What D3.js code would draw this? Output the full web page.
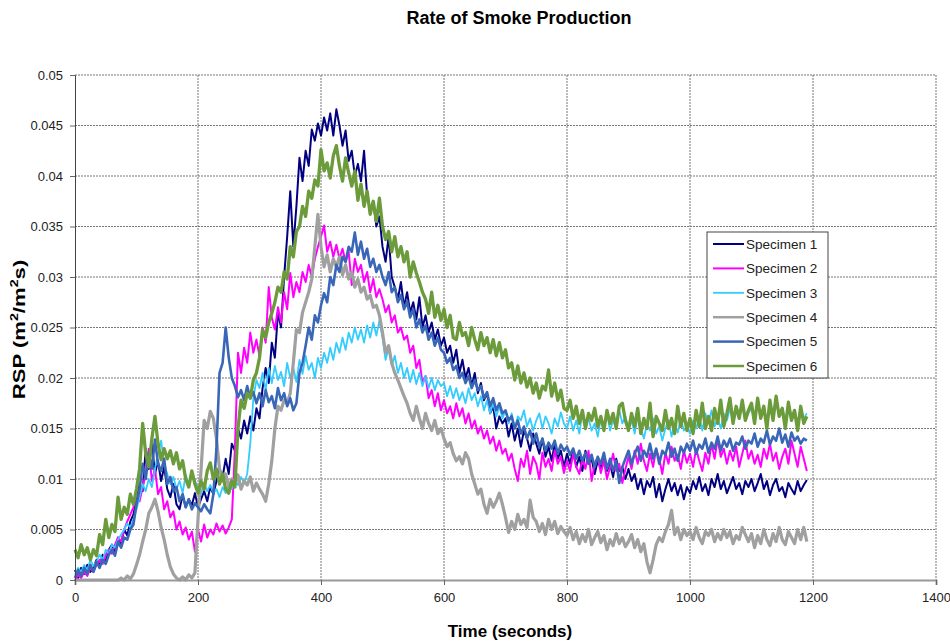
<!DOCTYPE html>
<html>
<head>
<meta charset="utf-8">
<script src="https://cdn.jsdelivr.net/npm/d3@7"></script>
<style>
  body { margin: 0; background: #fff; }
  svg text { font-family: "Liberation Sans", Arial, sans-serif; }
</style>
</head>
<body>
<div id="chart"></div>
<script>
// time in seconds (5 s sampling)
const time = [
  0,5,10,15,20,25,30,35,40,45,50,55,60,65,70,75,80,85,90,95,
  100,105,110,115,120,125,130,135,140,145,150,155,160,165,170,175,180,185,190,195,
  200,205,210,215,220,225,230,235,240,245,250,255,260,265,270,275,280,285,290,295,
  300,305,310,315,320,325,330,335,340,345,350,355,360,365,370,375,380,385,390,395,
  400,405,410,415,420,425,430,435,440,445,450,455,460,465,470,475,480,485,490,495,
  500,505,510,515,520,525,530,535,540,545,550,555,560,565,570,575,580,585,590,595,
  600,605,610,615,620,625,630,635,640,645,650,655,660,665,670,675,680,685,690,695,
  700,705,710,715,720,725,730,735,740,745,750,755,760,765,770,775,780,785,790,795,
  800,805,810,815,820,825,830,835,840,845,850,855,860,865,870,875,880,885,890,895,
  900,905,910,915,920,925,930,935,940,945,950,955,960,965,970,975,980,985,990,995,
  1000,1005,1010,1015,1020,1025,1030,1035,1040,1045,1050,1055,1060,1065,1070,1075,1080,1085,1090,1095,
  1100,1105,1110,1115,1120,1125,1130,1135,1140,1145,1150,1155,1160,1165,1170,1175,1180,1185,1190
];

const specimen1 = [
  0.0010,0.0002,0.0012,0.0006,0.0015,0.0008,0.0012,0.0020,0.0014,0.0025,0.0018,0.0030,0.0035,0.0028,0.0042,0.0036,0.0050,0.0044,0.0058,0.0065,
  0.0080,0.0095,0.0088,0.0130,0.0110,0.0136,0.0105,0.0118,0.0098,0.0112,0.0090,0.0082,0.0095,0.0075,0.0070,0.0084,0.0072,0.0080,0.0074,0.0086,
  0.0072,0.0080,0.0088,0.0078,0.0092,0.0085,0.0098,0.0110,0.0102,0.0120,0.0105,0.0135,0.0128,0.0150,0.0140,0.0158,0.0145,0.0162,0.0148,0.0170,
  0.0160,0.0190,0.0210,0.0195,0.0235,0.0220,0.0265,0.0250,0.0300,0.0340,0.0385,0.0330,0.0370,0.0418,0.0395,0.0425,0.0410,0.0446,0.0435,0.0452,
  0.0440,0.0458,0.0445,0.0462,0.0440,0.0466,0.0450,0.0430,0.0445,0.0415,0.0425,0.0400,0.0412,0.0395,0.0425,0.0380,0.0366,0.0375,0.0350,0.0360,
  0.0330,0.0315,0.0340,0.0300,0.0290,0.0278,0.0295,0.0270,0.0285,0.0265,0.0275,0.0258,0.0280,0.0250,0.0262,0.0245,0.0255,0.0238,0.0248,0.0232,
  0.0240,0.0225,0.0232,0.0215,0.0228,0.0205,0.0218,0.0200,0.0210,0.0192,0.0205,0.0185,0.0195,0.0178,0.0185,0.0165,0.0172,0.0150,0.0162,0.0155,
  0.0160,0.0142,0.0155,0.0138,0.0150,0.0132,0.0148,0.0140,0.0128,0.0145,0.0135,0.0125,0.0140,0.0122,0.0132,0.0118,0.0135,0.0120,0.0128,0.0112,
  0.0125,0.0115,0.0130,0.0112,0.0122,0.0108,0.0128,0.0115,0.0120,0.0105,0.0118,0.0110,0.0125,0.0108,0.0115,0.0102,0.0120,0.0108,0.0112,0.0100,
  0.0110,0.0098,0.0105,0.0090,0.0100,0.0085,0.0098,0.0092,0.0102,0.0082,0.0095,0.0078,0.0090,0.0100,0.0088,0.0096,0.0084,0.0094,0.0080,0.0092,
  0.0086,0.0098,0.0090,0.0102,0.0088,0.0095,0.0084,0.0100,0.0092,0.0105,0.0090,0.0098,0.0086,0.0094,0.0102,0.0090,0.0096,0.0085,0.0098,0.0092,
  0.0100,0.0088,0.0096,0.0105,0.0090,0.0098,0.0084,0.0094,0.0100,0.0088,0.0092,0.0082,0.0096,0.0090,0.0085,0.0098,0.0088,0.0094,0.0099
];

const specimen2 = [
  0.0000,0.0005,0.0002,0.0008,0.0004,0.0012,0.0008,0.0015,0.0020,0.0016,0.0025,0.0030,0.0026,0.0035,0.0042,0.0038,0.0050,0.0058,0.0065,0.0072,
  0.0085,0.0078,0.0092,0.0105,0.0130,0.0098,0.0110,0.0085,0.0092,0.0070,0.0078,0.0062,0.0068,0.0050,0.0058,0.0045,0.0052,0.0040,0.0048,0.0028,
  0.0050,0.0038,0.0055,0.0042,0.0050,0.0045,0.0056,0.0048,0.0054,0.0046,0.0052,0.0060,0.0130,0.0225,0.0205,0.0230,0.0215,0.0245,0.0225,0.0238,
  0.0222,0.0250,0.0235,0.0290,0.0260,0.0248,0.0270,0.0255,0.0285,0.0268,0.0304,0.0280,0.0295,0.0285,0.0305,0.0295,0.0312,0.0300,0.0318,0.0330,
  0.0340,0.0351,0.0325,0.0335,0.0320,0.0332,0.0318,0.0328,0.0315,0.0325,0.0292,0.0318,0.0305,0.0312,0.0295,0.0305,0.0285,0.0298,0.0280,0.0288,
  0.0278,0.0265,0.0272,0.0255,0.0262,0.0245,0.0250,0.0238,0.0242,0.0225,0.0232,0.0210,0.0218,0.0195,0.0202,0.0180,0.0188,0.0172,0.0185,0.0168,
  0.0178,0.0165,0.0172,0.0160,0.0175,0.0162,0.0170,0.0155,0.0165,0.0150,0.0158,0.0145,0.0152,0.0140,0.0148,0.0135,0.0142,0.0128,0.0138,0.0125,
  0.0130,0.0118,0.0125,0.0110,0.0098,0.0120,0.0112,0.0128,0.0105,0.0122,0.0115,0.0100,0.0126,0.0112,0.0120,0.0108,0.0128,0.0115,0.0122,0.0106,
  0.0118,0.0108,0.0125,0.0112,0.0105,0.0120,0.0110,0.0128,0.0098,0.0115,0.0122,0.0106,0.0118,0.0100,0.0112,0.0125,0.0108,0.0115,0.0096,0.0110,
  0.0122,0.0110,0.0128,0.0115,0.0135,0.0118,0.0108,0.0125,0.0112,0.0130,0.0120,0.0105,0.0126,0.0115,0.0132,0.0118,0.0124,0.0110,0.0128,0.0116,
  0.0125,0.0112,0.0130,0.0118,0.0108,0.0126,0.0115,0.0135,0.0120,0.0140,0.0122,0.0130,0.0115,0.0128,0.0118,0.0132,0.0112,0.0125,0.0138,0.0120,
  0.0128,0.0115,0.0124,0.0112,0.0130,0.0120,0.0135,0.0118,0.0126,0.0110,0.0122,0.0130,0.0115,0.0138,0.0125,0.0112,0.0132,0.0120,0.0108
];

const specimen3 = [
  0.0005,0.0012,0.0008,0.0015,0.0010,0.0020,0.0014,0.0018,0.0025,0.0020,0.0030,0.0026,0.0035,0.0032,0.0040,0.0045,0.0050,0.0056,0.0052,0.0060,
  0.0070,0.0082,0.0095,0.0088,0.0100,0.0092,0.0110,0.0125,0.0138,0.0115,0.0105,0.0095,0.0102,0.0090,0.0098,0.0086,0.0104,0.0095,0.0108,0.0098,
  0.0092,0.0085,0.0096,0.0088,0.0094,0.0086,0.0090,0.0082,0.0092,0.0086,0.0095,0.0090,0.0100,0.0094,0.0102,0.0096,0.0105,0.0135,0.0180,0.0198,
  0.0190,0.0205,0.0188,0.0210,0.0195,0.0212,0.0198,0.0206,0.0192,0.0215,0.0200,0.0210,0.0196,0.0218,0.0204,0.0222,0.0208,0.0215,0.0200,0.0220,
  0.0210,0.0225,0.0215,0.0230,0.0218,0.0235,0.0225,0.0240,0.0228,0.0245,0.0235,0.0250,0.0238,0.0248,0.0235,0.0252,0.0240,0.0255,0.0242,0.0257,
  0.0240,0.0218,0.0230,0.0212,0.0222,0.0205,0.0215,0.0200,0.0210,0.0196,0.0208,0.0194,0.0205,0.0192,0.0202,0.0190,0.0200,0.0188,0.0198,0.0192,
  0.0195,0.0182,0.0192,0.0180,0.0190,0.0178,0.0186,0.0175,0.0190,0.0178,0.0185,0.0172,0.0182,0.0168,0.0178,0.0165,0.0175,0.0162,0.0172,0.0160,
  0.0168,0.0155,0.0165,0.0150,0.0162,0.0158,0.0168,0.0152,0.0160,0.0148,0.0158,0.0165,0.0150,0.0162,0.0155,0.0145,0.0160,0.0152,0.0166,0.0155,
  0.0150,0.0162,0.0148,0.0158,0.0145,0.0165,0.0152,0.0160,0.0148,0.0155,0.0142,0.0160,0.0150,0.0165,0.0148,0.0158,0.0152,0.0168,0.0155,0.0162,
  0.0150,0.0158,0.0145,0.0162,0.0150,0.0140,0.0155,0.0148,0.0160,0.0145,0.0152,0.0138,0.0150,0.0158,0.0142,0.0155,0.0146,0.0160,0.0148,0.0152,
  0.0145,0.0158,0.0150,0.0162,0.0148,0.0165,0.0155,0.0168,0.0152,0.0160,0.0150,0.0165,0.0158,0.0170,0.0155,0.0168,0.0160,0.0172,0.0158,0.0165,
  0.0170,0.0158,0.0175,0.0162,0.0168,0.0155,0.0172,0.0160,0.0178,0.0165,0.0170,0.0158,0.0175,0.0162,0.0168,0.0155,0.0170,0.0160,0.0165
];

const specimen4 = [
  0.0000,0.0000,0.0000,0.0000,0.0000,0.0000,0.0000,0.0000,0.0000,0.0000,0.0000,0.0000,0.0000,0.0000,0.0000,0.0002,0.0000,0.0004,0.0001,0.0006,
  0.0015,0.0025,0.0038,0.0050,0.0066,0.0072,0.0080,0.0068,0.0052,0.0040,0.0025,0.0013,0.0006,0.0002,0.0000,0.0003,0.0000,0.0005,0.0002,0.0007,
  0.0060,0.0110,0.0158,0.0150,0.0167,0.0160,0.0140,0.0110,0.0098,0.0105,0.0092,0.0100,0.0095,0.0104,0.0090,0.0098,0.0094,0.0102,0.0088,0.0096,
  0.0090,0.0085,0.0078,0.0095,0.0118,0.0150,0.0172,0.0168,0.0178,0.0175,0.0185,0.0215,0.0248,0.0245,0.0265,0.0275,0.0285,0.0298,0.0330,0.0362,
  0.0330,0.0310,0.0322,0.0305,0.0318,0.0310,0.0320,0.0302,0.0312,0.0298,0.0305,0.0290,0.0298,0.0285,0.0290,0.0278,0.0282,0.0270,0.0272,0.0262,
  0.0245,0.0225,0.0232,0.0215,0.0205,0.0198,0.0190,0.0182,0.0175,0.0165,0.0158,0.0172,0.0160,0.0150,0.0165,0.0155,0.0148,0.0158,0.0145,0.0150,
  0.0140,0.0132,0.0136,0.0125,0.0118,0.0122,0.0115,0.0126,0.0120,0.0105,0.0095,0.0085,0.0090,0.0075,0.0066,0.0080,0.0072,0.0078,0.0086,0.0075,
  0.0062,0.0047,0.0058,0.0050,0.0065,0.0055,0.0060,0.0052,0.0079,0.0062,0.0058,0.0048,0.0056,0.0045,0.0060,0.0050,0.0058,0.0046,0.0053,0.0048,
  0.0044,0.0052,0.0040,0.0048,0.0036,0.0045,0.0038,0.0050,0.0035,0.0042,0.0048,0.0037,0.0044,0.0030,0.0040,0.0034,0.0046,0.0036,0.0042,0.0033,
  0.0038,0.0045,0.0032,0.0040,0.0028,0.0036,0.0018,0.0007,0.0020,0.0035,0.0042,0.0038,0.0048,0.0055,0.0069,0.0045,0.0052,0.0040,0.0050,0.0044,
  0.0048,0.0040,0.0052,0.0042,0.0036,0.0048,0.0044,0.0050,0.0038,0.0046,0.0040,0.0050,0.0042,0.0048,0.0036,0.0044,0.0040,0.0052,0.0045,0.0038,
  0.0046,0.0032,0.0044,0.0036,0.0050,0.0040,0.0034,0.0046,0.0038,0.0052,0.0040,0.0035,0.0048,0.0042,0.0036,0.0050,0.0040,0.0052,0.0038
];

const specimen5 = [
  0.0002,0.0010,0.0004,0.0012,0.0006,0.0015,0.0008,0.0018,0.0012,0.0020,0.0016,0.0025,0.0030,0.0024,0.0038,0.0032,0.0042,0.0040,0.0050,0.0055,
  0.0075,0.0090,0.0115,0.0100,0.0125,0.0110,0.0139,0.0115,0.0108,0.0120,0.0095,0.0102,0.0088,0.0092,0.0078,0.0085,0.0072,0.0080,0.0070,0.0076,
  0.0072,0.0068,0.0075,0.0070,0.0066,0.0085,0.0130,0.0205,0.0215,0.0250,0.0220,0.0200,0.0192,0.0181,0.0188,0.0178,0.0192,0.0180,0.0186,0.0175,
  0.0185,0.0172,0.0188,0.0176,0.0182,0.0170,0.0190,0.0178,0.0185,0.0172,0.0180,0.0168,0.0175,0.0205,0.0215,0.0232,0.0250,0.0238,0.0262,0.0255,
  0.0272,0.0284,0.0275,0.0300,0.0292,0.0312,0.0305,0.0320,0.0315,0.0330,0.0325,0.0344,0.0322,0.0335,0.0318,0.0328,0.0310,0.0318,0.0305,0.0312,
  0.0300,0.0292,0.0305,0.0285,0.0290,0.0275,0.0282,0.0268,0.0276,0.0260,0.0268,0.0250,0.0258,0.0245,0.0252,0.0238,0.0245,0.0232,0.0240,0.0228,
  0.0225,0.0215,0.0220,0.0208,0.0212,0.0200,0.0205,0.0195,0.0202,0.0190,0.0198,0.0188,0.0192,0.0180,0.0186,0.0172,0.0180,0.0168,0.0175,0.0165,
  0.0168,0.0158,0.0162,0.0150,0.0158,0.0145,0.0152,0.0140,0.0148,0.0135,0.0145,0.0132,0.0140,0.0128,0.0136,0.0130,0.0138,0.0125,0.0134,0.0128,
  0.0132,0.0124,0.0130,0.0120,0.0128,0.0118,0.0126,0.0115,0.0124,0.0112,0.0122,0.0115,0.0126,0.0110,0.0120,0.0108,0.0118,0.0096,0.0112,0.0120,
  0.0128,0.0115,0.0125,0.0132,0.0118,0.0128,0.0122,0.0135,0.0120,0.0130,0.0115,0.0128,0.0124,0.0136,0.0122,0.0130,0.0118,0.0132,0.0126,0.0135,
  0.0128,0.0138,0.0125,0.0134,0.0130,0.0140,0.0126,0.0136,0.0130,0.0142,0.0128,0.0138,0.0132,0.0140,0.0128,0.0136,0.0134,0.0142,0.0130,0.0138,
  0.0135,0.0145,0.0132,0.0140,0.0136,0.0148,0.0134,0.0142,0.0138,0.0150,0.0136,0.0144,0.0132,0.0146,0.0138,0.0142,0.0135,0.0140,0.0138
];

const specimen6 = [
  0.0030,0.0022,0.0035,0.0025,0.0032,0.0020,0.0030,0.0024,0.0045,0.0035,0.0060,0.0042,0.0055,0.0048,0.0082,0.0060,0.0072,0.0065,0.0085,0.0075,
  0.0090,0.0110,0.0155,0.0125,0.0112,0.0140,0.0162,0.0135,0.0119,0.0130,0.0120,0.0128,0.0115,0.0126,0.0110,0.0118,0.0100,0.0092,0.0108,0.0095,
  0.0086,0.0098,0.0090,0.0108,0.0116,0.0100,0.0110,0.0095,0.0105,0.0090,0.0086,0.0098,0.0092,0.0150,0.0178,0.0170,0.0185,0.0180,0.0198,0.0205,
  0.0220,0.0248,0.0240,0.0255,0.0264,0.0275,0.0290,0.0285,0.0305,0.0298,0.0330,0.0320,0.0345,0.0350,0.0370,0.0360,0.0385,0.0378,0.0396,0.0390,
  0.0426,0.0405,0.0413,0.0398,0.0420,0.0430,0.0410,0.0395,0.0418,0.0403,0.0390,0.0405,0.0376,0.0392,0.0370,0.0385,0.0362,0.0375,0.0355,0.0378,
  0.0350,0.0337,0.0345,0.0325,0.0340,0.0320,0.0330,0.0315,0.0325,0.0300,0.0315,0.0304,0.0295,0.0285,0.0278,0.0264,0.0285,0.0260,0.0272,0.0257,
  0.0268,0.0250,0.0262,0.0240,0.0238,0.0255,0.0242,0.0245,0.0232,0.0250,0.0238,0.0228,0.0245,0.0232,0.0240,0.0225,0.0238,0.0222,0.0235,0.0220,
  0.0228,0.0210,0.0215,0.0198,0.0212,0.0195,0.0205,0.0191,0.0200,0.0185,0.0195,0.0180,0.0192,0.0188,0.0208,0.0182,0.0195,0.0178,0.0188,0.0170,
  0.0168,0.0178,0.0160,0.0172,0.0155,0.0168,0.0150,0.0165,0.0158,0.0170,0.0152,0.0162,0.0148,0.0168,0.0155,0.0165,0.0150,0.0172,0.0175,0.0158,
  0.0148,0.0165,0.0152,0.0170,0.0145,0.0160,0.0150,0.0175,0.0142,0.0162,0.0155,0.0148,0.0168,0.0150,0.0160,0.0145,0.0172,0.0152,0.0165,0.0148,
  0.0160,0.0145,0.0168,0.0152,0.0175,0.0150,0.0162,0.0148,0.0170,0.0155,0.0178,0.0152,0.0165,0.0180,0.0155,0.0172,0.0160,0.0178,0.0158,0.0168,
  0.0175,0.0155,0.0180,0.0160,0.0172,0.0150,0.0178,0.0158,0.0182,0.0162,0.0170,0.0150,0.0176,0.0158,0.0168,0.0148,0.0172,0.0155,0.0162
];

const seriesNames = ["Specimen 1", "Specimen 2", "Specimen 3", "Specimen 4", "Specimen 5", "Specimen 6"];
const seriesData = [specimen1, specimen2, specimen3, specimen4, specimen5, specimen6];
const seriesColors = ["#000080", "#ff00ff", "#33ccff", "#a0a0a0", "#3a66b8", "#6b9b3a"];
const seriesWidths = [2, 2, 1.8, 3.2, 2.6, 3.3];

const xTicks = [0, 200, 400, 600, 800, 1000, 1200, 1400];
const yTicks = [0, 0.005, 0.01, 0.015, 0.02, 0.025, 0.03, 0.035, 0.04, 0.045, 0.05];

const width = 950, height = 642;
const margin = { top: 75, right: 14, bottom: 62, left: 75 };

const svg = d3.select("#chart").append("svg")
    .attr("width", width)
    .attr("height", height);

const x = d3.scaleLinear().domain([0, 1400]).range([margin.left, width - margin.right]);
const y = d3.scaleLinear().domain([0, 0.05]).range([height - margin.bottom, margin.top]);

// gridlines
svg.append("g")
    .selectAll("line")
    .data(yTicks.slice(1))
    .enter().append("line")
    .attr("x1", x(0)).attr("x2", x(1400))
    .attr("y1", d => y(d)).attr("y2", d => y(d))
    .style("stroke", "#777")
    .style("stroke-width", 1)
    .style("stroke-dasharray", "2,1");

svg.append("g")
    .selectAll("line")
    .data(xTicks.slice(1))
    .enter().append("line")
    .attr("x1", d => x(d)).attr("x2", d => x(d))
    .attr("y1", y(0.05)).attr("y2", y(0))
    .style("stroke", "#777")
    .style("stroke-width", 1)
    .style("stroke-dasharray", "2,1");

// series
const line = d3.line()
    .x((d, i) => x(time[i]))
    .y(d => y(d));

seriesData.forEach((data, k) => {
    svg.append("path")
        .datum(data)
        .attr("fill", "none")
        .attr("stroke", seriesColors[k])
        .attr("stroke-width", seriesWidths[k])
        .attr("stroke-linejoin", "round")
        .attr("d", line);
});

// axes
const xAxis = d3.axisBottom(x).tickValues(xTicks).tickSize(5).tickFormat(d3.format("d"));
const yAxis = d3.axisLeft(y).tickValues(yTicks).tickSize(5).tickFormat(d => d === 0 ? "0" : d3.format("")(+d.toFixed(3)));

const gx = svg.append("g")
    .attr("transform", `translate(0,${y(0)})`)
    .call(xAxis);
gx.select(".domain").attr("stroke", "#999").attr("stroke-width", 2);
gx.selectAll(".tick line").attr("stroke", "#666");
gx.selectAll("text").attr("fill", "#222").style("font-size", "13px").attr("dy", "1.05em");

const gy = svg.append("g")
    .attr("transform", `translate(${x(0)},0)`)
    .call(yAxis);
gy.select(".domain").attr("stroke", "#444").attr("stroke-width", 1);
gy.selectAll(".tick line").attr("stroke", "#666");
gy.selectAll("text").attr("fill", "#222").style("font-size", "13px").attr("x", -12);

// titles
svg.append("text")
    .attr("x", 519).attr("y", 24)
    .attr("text-anchor", "middle")
    .style("font-size", "18px").style("font-weight", "bold")
    .text("Rate of Smoke Production");

svg.append("text")
    .attr("x", 510).attr("y", 637)
    .attr("text-anchor", "middle")
    .style("font-size", "17px").style("font-weight", "bold")
    .text("Time (seconds)");

const yTitle = svg.append("text")
    .attr("transform", `translate(25,${(y(0) + y(0.05)) / 2 + 2}) rotate(-90) scale(1.3,1)`)
    .attr("text-anchor", "middle")
    .style("font-size", "17px").style("font-weight", "bold");
yTitle.append("tspan").text("RSP (m");
yTitle.append("tspan").attr("dy", -7).style("font-size", "11px").text("2");
yTitle.append("tspan").attr("dy", 7).text("/m");
yTitle.append("tspan").attr("dy", -7).style("font-size", "11px").text("2");
yTitle.append("tspan").attr("dy", 7).text("s)");

// legend
const legend = svg.append("g").attr("transform", "translate(707,232)");
legend.append("rect")
    .attr("width", 121).attr("height", 146)
    .attr("fill", "#fff")
    .attr("stroke", "#444").attr("stroke-width", 1);

seriesNames.forEach((name, k) => {
    const row = legend.append("g").attr("transform", `translate(0,${12 + k * 24.4})`);
    row.append("line")
        .attr("x1", 6).attr("x2", 37)
        .attr("stroke", seriesColors[k])
        .attr("stroke-width", Math.min(seriesWidths[k], 2.5));
    row.append("text")
        .attr("x", 39).attr("dy", "0.35em")
        .style("font-size", "13.5px").attr("fill", "#222")
        .text(name);
});
</script>
</body>
</html>
